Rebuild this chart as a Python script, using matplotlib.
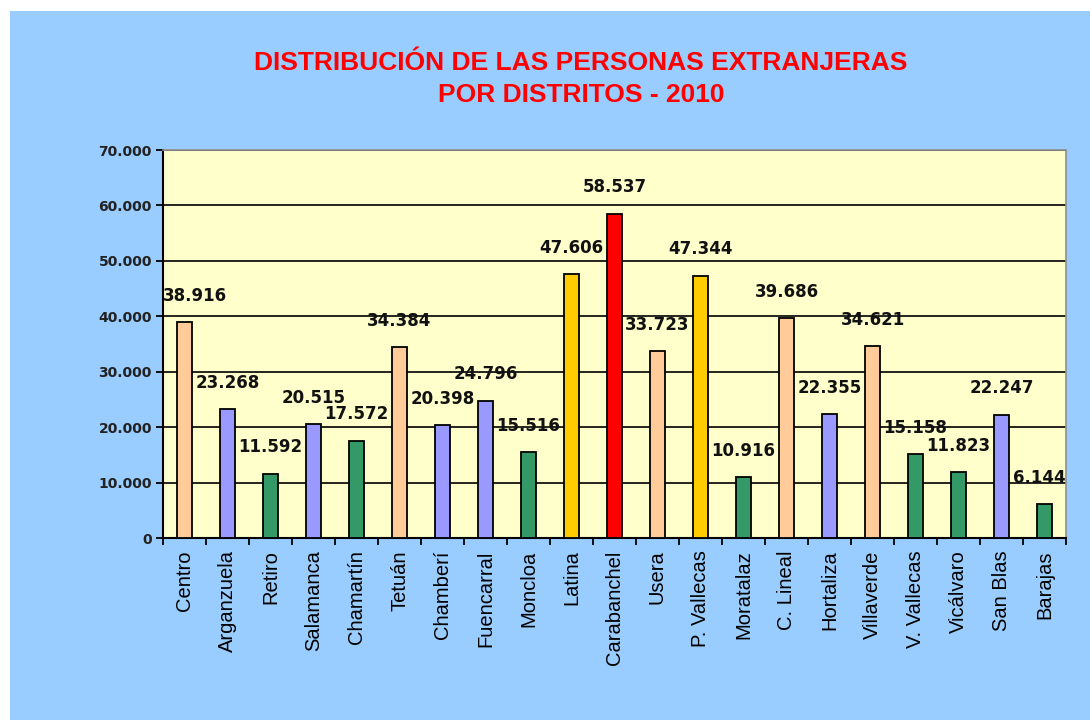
import numpy as np
import matplotlib
matplotlib.use("Agg")
import matplotlib.pyplot as plt
from matplotlib.patches import Rectangle
from matplotlib.ticker import FuncFormatter, FixedLocator

# Data
districts = ["Centro", "Arganzuela", "Retiro", "Salamanca", "Chamartín", "Tetuán",
             "Chamberí", "Fuencarral", "Moncloa", "Latina", "Carabanchel", "Usera",
             "P. Vallecas", "Moratalaz", "C. Lineal", "Hortaliza", "Villaverde",
             "V. Vallecas", "Vicálvaro", "San Blas", "Barajas"]
foreigners = [38916, 23268, 11592, 20515, 17572, 34384, 20398, 24796, 15516, 47606,
              58537, 33723, 47344, 10916, 39686, 22355, 34621, 15158, 11823, 22247, 6144]
groups = ["peach", "lav", "green", "lav", "green", "peach", "lav", "lav", "green", "gold",
          "red", "peach", "gold", "green", "peach", "lav", "peach", "green", "green", "lav", "green"]

palette = {"peach": "#FFCC99", "lav": "#9999FF", "green": "#339966",
           "gold": "#FFCC00", "red": "#FF0000"}


def dots(v, pos=None):
    return f"{int(v):,}".replace(",", ".")


fig = plt.figure(figsize=(10.9, 7.2), dpi=100)
fig.patch.set_facecolor("white")
fig.add_artist(Rectangle((10 / 1090, 0), 1, 1 - 11 / 720, transform=fig.transFigure,
                         facecolor="#99CCFF", edgecolor="none", zorder=-10))

ax = fig.add_axes([163 / 1090, 1 - 538 / 720, (1066 - 163) / 1090, (538 - 150) / 720])
ax.set_facecolor("#FFFFCC")

x = np.arange(len(districts))
colors = [palette[g] for g in groups]
ax.bar(x, foreigners, width=0.35, color=colors, edgecolor="black", linewidth=1.3, zorder=3)

ax.set_xlim(-0.5, len(districts) - 0.5)
ax.set_ylim(0, 70000)
ax.set_yticks(np.arange(0, 70001, 10000))
ax.yaxis.set_major_formatter(FuncFormatter(dots))
ax.yaxis.grid(True, color="black", linewidth=1.2, zorder=1)
ax.set_axisbelow(True)

ax.set_xticks(x)
ax.set_xticklabels(districts, rotation=90, fontsize=14.5, family="Liberation Sans")
ax.xaxis.set_minor_locator(FixedLocator(np.arange(-0.5, len(districts), 1)))
ax.tick_params(axis="x", which="major", length=0, pad=9)
ax.tick_params(axis="x", which="minor", length=5, width=1.3, direction="out")
ax.tick_params(axis="y", length=5, width=1.3, pad=3)
for lab in ax.get_yticklabels():
    lab.set_fontweight("bold")
    lab.set_fontsize(10)
    lab.set_color("#222222")

for side in ["left", "bottom"]:
    ax.spines[side].set_color("black")
    ax.spines[side].set_linewidth(1.5)
for side in ["top", "right"]:
    ax.spines[side].set_color("#909090")
    ax.spines[side].set_linewidth(1.2)

# value labels (drawn beneath the bars, like the original)
for i, v in enumerate(foreigners):
    xi = i
    ha = "center"
    if i == 0:
        xi, ha = -0.5, "left"
    elif i == len(foreigners) - 1:
        xi, ha = len(foreigners) - 0.5, "right"
    ax.annotate(dots(v), (xi, v), xytext=(0, 19), textcoords="offset points",
                ha=ha, va="center", fontsize=12, fontweight="bold", color="#111111",
                zorder=2.5)

fig.text(581 / 1090, 1 - 63 / 720, "DISTRIBUCIÓN DE LAS PERSONAS EXTRANJERAS",
         ha="center", va="center", color="#FF0000", fontsize=19, fontweight="bold",
         family="Liberation Sans")
fig.text(581 / 1090, 1 - 95 / 720, "POR DISTRITOS - 2010",
         ha="center", va="center", color="#FF0000", fontsize=19, fontweight="bold",
         family="Liberation Sans")

fig.savefig("out.png", dpi=100)
